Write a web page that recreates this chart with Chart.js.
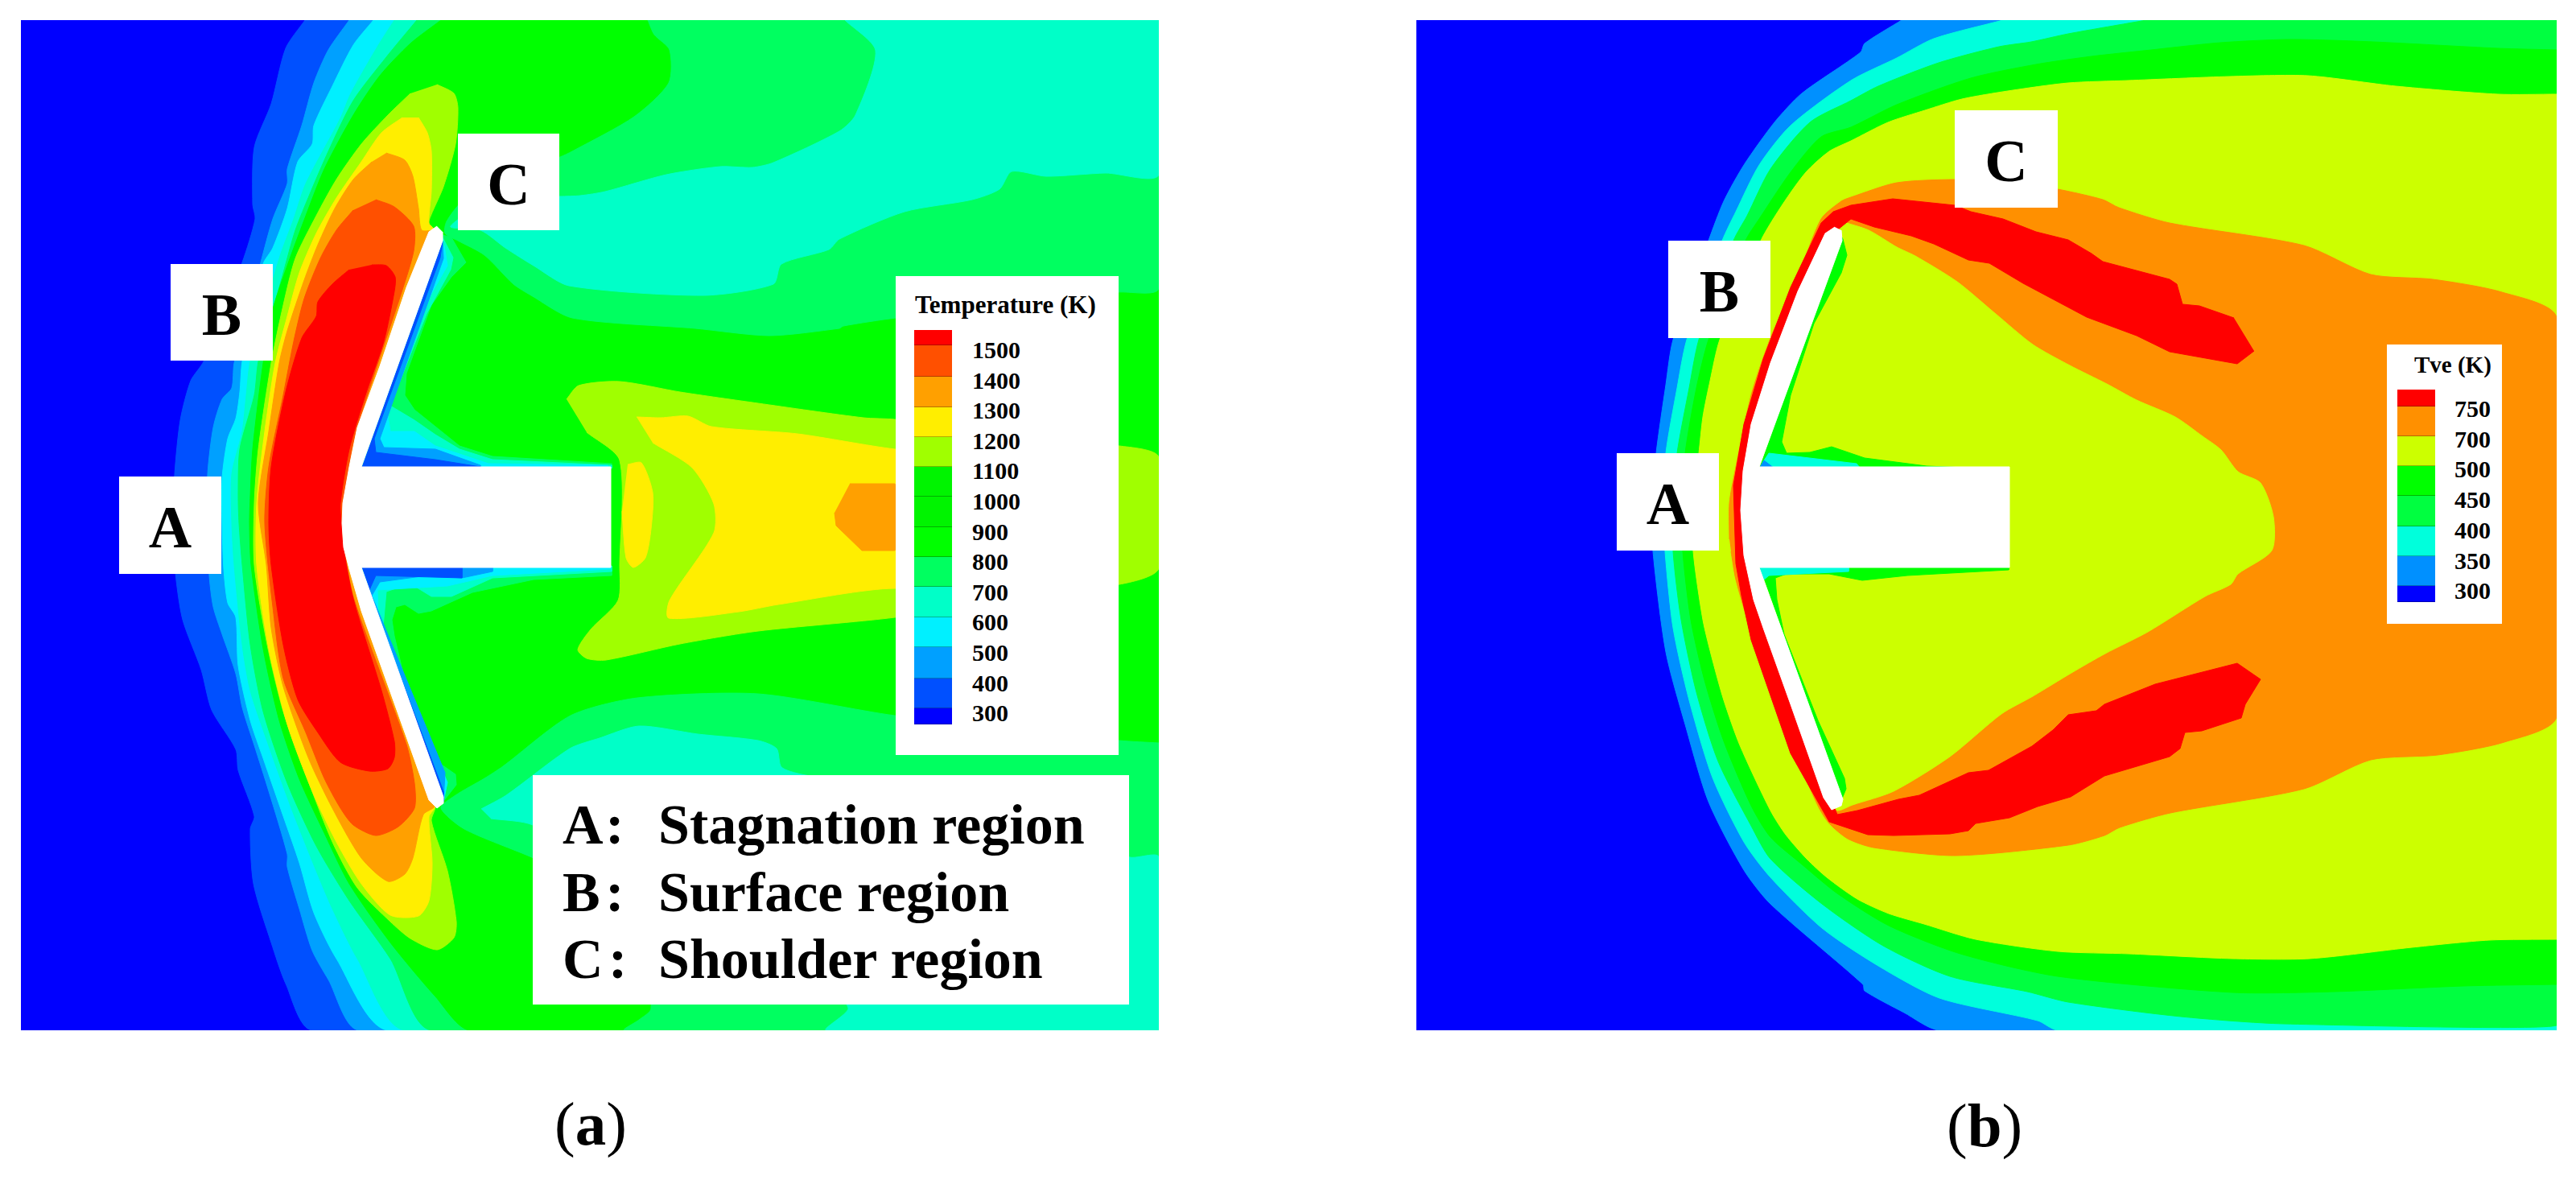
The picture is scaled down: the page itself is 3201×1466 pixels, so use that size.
<!DOCTYPE html>
<html lang="en">
<head>
<meta charset="UTF-8">
<title>Temperature and Tve contours</title>
<script src="https://cdn.jsdelivr.net/npm/chart.js"></script>
<style>
  html, body { margin: 0; padding: 0; background: #fff; }
  #page { position: relative; width: 3201px; height: 1466px; overflow: hidden; font-family: "Liberation Serif", serif; color: #000; }
  canvas { position: absolute; }
  .box { position: absolute; background: #fff; }
  .tag { display: flex; align-items: center; justify-content: center; box-sizing: border-box; padding-top: 5px; font-weight: bold; font-size: 74px; line-height: 1; }
  .txt { position: absolute; white-space: nowrap; font-weight: bold; line-height: 1; }
  .cap { position: absolute; white-space: nowrap; font-size: 77px; line-height: 1; }
  .cell { position: absolute; box-sizing: border-box; border-bottom: 1px solid rgba(0,0,0,.28); }
</style>
</head>
<body>
<div id="page">
  <canvas id="chartA"></canvas>
  <canvas id="chartB"></canvas>
</div>
<script>
// ---- legend ticks and colours ----
const tempTicks = [1500, 1400, 1300, 1200, 1100, 1000, 900, 800, 700, 600, 500, 400, 300];
const tempColors = ['#ff0000', '#ff5000', '#ffa000', '#ffee00', '#a0ff00', '#00f400', '#00f400', '#00ff00', '#00ff60', '#00ffc8', '#00f0ff', '#00a0ff', '#0050ff', '#0000ff'];
const tveTicks = [750, 700, 500, 450, 400, 350, 300];
const tveColors = ['#ff0000', '#ff9000', '#ccff00', '#00ff00', '#00ff40', '#00ffdc', '#0090ff', '#0000ff'];
const regionKeys = ['A', 'B', 'C'];
const regionNames = ['Stagnation region', 'Surface region', 'Shoulder region'];

// ---- (a) temperature contours ----
const aField = [[26,25],[1440,25],[1440,1280],[26,1280]];
const aEdge400 = [[379,25],[355,60],[337,129],[316,183],[314,254],[317,272],[301,326],[253,449],[237,473],[224,522],[217,589],[215,650],[218,712],[227,770],[250,832],[263,882],[293,931],[296,957],[316,1014],[311,1030],[315,1098],[337,1171],[355,1222],[388,1280],[1440,1280],[1440,25]];
const aEdge500 = [[434,25],[408,62],[390,103],[375,156],[357,210],[357,228],[339,272],[324,326],[291,451],[288,482],[276,496],[265,531],[258,589],[258,650],[260,715],[265,754],[276,788],[293,837],[301,879],[316,926],[334,983],[357,1061],[357,1077],[372,1129],[388,1181],[408,1217],[446,1280],[1440,1280],[1440,25]];
const aEdge600 = [[464,25],[439,56],[413,107],[390,156],[388,179],[370,201],[357,259],[339,308],[327,328],[301,449],[298,487],[293,520],[283,545],[276,594],[276,650],[278,707],[283,749],[293,767],[296,827],[311,895],[327,942],[352,1014],[372,1072],[390,1134],[418,1191],[482,1280],[1440,1280],[1440,25]];
const aEdge700 = [[490,25],[469,58],[436,116],[423,147],[380,228],[365,272],[347,321],[311,449],[306,491],[301,536],[288,589],[288,650],[291,702],[301,801],[311,858],[332,921],[362,1004],[393,1082],[413,1129],[444,1191],[503,1280],[1440,1280],[1440,25]];
const aEdge800 = [[518,25],[480,71],[439,125],[408,188],[385,241],[367,286],[352,339],[337,393],[321,449],[316,491],[298,558],[296,616],[297,650],[301,702],[311,801],[327,884],[357,973],[393,1051],[434,1119],[485,1191],[536,1280],[1440,1280],[1440,25]];
const aEdge900 = [[548,25],[510,54],[472,94],[439,143],[403,210],[380,268],[357,330],[339,384],[327,451],[314,558],[311,616],[310,650],[312,702],[327,806],[347,895],[372,968],[403,1035],[434,1098],[485,1171],[541,1238],[584,1280],[1440,1280],[1440,25]];

const aWakeTop800 = [[805,25],[813,43],[832,62],[831,103],[788,145],[711,188],[696,195],[640,215],[575,250],[555,275],[553,290],[569,299],[602,317],[638,353],[660,367],[711,395],[864,408],[956,417],[1043,408],[1048,405],[1113,395],[1390,363],[1440,358],[1440,25]];
const aWakeTop700 = [[1050,25],[1088,63],[1063,143],[1043,163],[961,202],[935,208],[895,207],[828,217],[752,238],[721,243],[696,244],[600,245],[575,268],[560,282],[597,286],[628,308],[663,330],[707,355],[874,367],[961,353],[971,328],[1030,310],[1043,297],[1124,263],[1208,248],[1242,235],[1257,213],[1300,219],[1374,215],[1440,217],[1440,25]];
const aWakeLow800 = [[1440,923],[1391,920],[1112,889],[942,862],[792,867],[709,889],[625,952],[602,967],[566,988],[548,1004],[577,1030],[663,1066],[800,1130],[809,1253],[794,1267],[776,1280],[1440,1280]];
const aWakeLow700 = [[598,1005],[629,988],[708,930],[745,917],[794,902],[867,912],[942,920],[965,930],[971,953],[996,962],[1100,980],[1404,1065],[1440,1065],[1440,1280],[1027,1280],[1054,1252],[1000,1200],[662,1025],[610,1017]];
const aCore1200 = [[704,496],[719,479],[770,474],[845,487],[942,501],[1073,519],[1112,521],[1391,554],[1440,568],[1440,706],[1391,726],[1112,767],[942,784],[845,800],[753,820],[729,818],[718,807],[734,782],[768,746],[770,702],[770,572],[729,537]];
const aCore1300 = [[791,518],[821,519],[855,517],[884,530],[991,539],[1112,558],[1300,575],[1300,750],[1112,731],[967,751],[918,760],[831,768],[832,746],[887,662],[887,626],[860,581],[811,550]];
const aNear1300 = [[780,577],[797,575],[811,612],[809,657],[802,693],[787,705],[778,693],[773,635]];
const aCore1400 = [[1056,601],[1112,601],[1130,640],[1112,684],[1071,684],[1039,653],[1037,637]];

const aBackTop800 = [[543,290],[561,295],[579,326],[561,344],[536,379],[505,464],[503,491],[515,509],[571,554],[612,567],[760,576],[760,582],[449,582]];
const aBackTop700 = [[550,295],[563,320],[560,335],[530,390],[485,504],[515,522],[541,540],[571,558],[612,571],[760,578],[760,582],[449,582]];
const aBackTop600 = [[552,305],[556,330],[536,365],[480,504],[485,536],[515,536],[541,554],[607,576],[755,578],[755,582],[449,582]];
const aBackTop500 = [[550,300],[551,321],[472,545],[477,556],[541,558],[597,578],[597,582],[449,582]];
const aBackTop400 = [[550,300],[547,320],[465,545],[467,562],[541,571],[597,580],[449,582]];
const aBackLow800 = [[449,703],[760,703],[760,715],[663,720],[587,736],[536,759],[520,762],[503,751],[492,754],[487,770],[490,790],[510,874],[536,941],[566,962],[567,975],[553,993],[543,1004]];
const aBackLow700 = [[449,703],[760,703],[760,710],[612,718],[561,741],[536,741],[510,725],[480,735],[475,790],[510,890],[553,975],[551,996]];
const aBackLow600 = [[449,703],[758,703],[758,707],[612,715],[556,728],[469,733],[470,770],[556,972],[551,996]];
const aBackLow500 = [[449,703],[612,703],[612,710],[574,718],[531,715],[472,723],[462,740],[553,960],[551,996]];
const aBackLow400 = [[449,703],[574,703],[574,718],[467,715],[458,735],[551,983],[551,996]];

const aLobe1200 = [[543,105],[564,116],[569,134],[566,179],[551,232],[531,281],[541,288],[441,580],[441,705],[541,1000],[536,1020],[556,1082],[567,1145],[564,1165],[543,1180],[510,1166],[485,1145],[444,1103],[413,1046],[378,957],[352,884],[332,801],[316,702],[316,625],[321,558],[337,451],[352,379],[367,321],[393,268],[418,223],[449,179],[482,143],[510,116]];
const aLobe1300 = [[520,146],[531,165],[536,188],[536,237],[533,277],[541,288],[441,580],[441,705],[541,1000],[533,1015],[537,1072],[533,1119],[520,1138],[485,1137],[449,1098],[418,1046],[388,983],[357,900],[334,806],[319,702],[319,625],[329,536],[342,451],[357,393],[372,339],[393,290],[418,246],[449,201],[474,165],[500,146]];
const aLobe1400 = [[480,190],[503,199],[513,219],[520,259],[524,286],[541,288],[441,580],[441,705],[541,1000],[526,1012],[513,1066],[503,1086],[482,1095],[449,1066],[413,1004],[383,941],[352,853],[337,780],[331,702],[321,625],[334,536],[347,451],[357,411],[378,348],[395,304],[416,259],[439,223],[462,201]];
const aLobe1500 = [[467,248],[490,257],[514,281],[514,312],[500,360],[465,465],[440,545],[428,620],[428,680],[440,745],[505,925],[515,973],[515,1004],[495,1027],[467,1038],[439,1025],[423,1004],[403,967],[380,910],[352,843],[339,754],[329,650],[334,580],[352,491],[365,424],[378,371],[398,321],[418,286],[439,261]];
const aLobeTop = [[462,329],[480,330],[491,344],[490,362],[477,424],[454,491],[434,558],[423,625],[424,650],[426,676],[439,744],[474,858],[490,921],[490,941],[482,955],[459,958],[423,947],[395,910],[370,869],[352,801],[337,702],[334,650],[337,580],[355,487],[375,420],[393,393],[395,375],[413,353],[434,335]];
const aBody = [[543,281],[533,288],[505,357],[472,455],[444,531],[434,580],[426,625],[425,650],[427,680],[434,707],[449,759],[533,994],[543,1004],[551,998],[551,990],[449,705],[759,705],[759,580],[449,580],[550,299],[550,288]];

// ---- (b) Tve contours ----
const bField = [[1760,25],[3177,25],[3177,1280],[1760,1280]];
const bEdge350 = [[2363,25],[2317,54],[2312,65],[2239,116],[2205,152],[2167,205],[2142,250],[2123,299],[2079,422],[2070,478],[2058,563],[2053,625],[2054,685],[2070,810],[2094,900],[2123,996],[2167,1081],[2200,1123],[2315,1223],[2317,1231],[2366,1258],[2410,1280],[3177,1280],[3177,25]];
const bEdge400 = [[2489,25],[2403,48],[2357,72],[2300,100],[2225,156],[2186,205],[2157,263],[2140,299],[2096,422],[2084,482],[2070,563],[2067,625],[2069,685],[2079,780],[2099,870],[2128,966],[2167,1046],[2200,1090],[2264,1153],[2334,1200],[2410,1240],[2532,1268],[2557,1280],[3177,1280],[3177,25]];
const bEdge450 = [[2667,25],[2570,42],[2524,52],[2484,58],[2409,78],[2334,107],[2300,125],[2249,152],[2200,210],[2171,268],[2154,299],[2111,422],[2099,482],[2084,563],[2079,625],[2079,685],[2089,770],[2108,860],[2135,946],[2176,1026],[2200,1067],[2264,1123],[2340,1175],[2423,1213],[2519,1232],[2570,1245],[2710,1263],[2838,1272],[3177,1274],[3177,25]];
const bEdge500 = [[3177,62],[3104,60],[2949,52],[2845,49],[2759,53],[2673,62],[2599,70],[2530,80],[2449,97],[2357,130],[2300,158],[2263,170],[2225,214],[2186,272],[2169,299],[2123,422],[2108,482],[2094,563],[2090,625],[2091,685],[2101,770],[2118,845],[2142,921],[2176,1001],[2200,1040],[2238,1073],[2283,1110],[2347,1150],[2436,1185],[2557,1213],[2774,1233],[2901,1232],[3061,1225],[3177,1223]];
const bEdge700 = [[3177,117],[3104,117],[2977,107],[2868,94],[2771,95],[2644,100],[2570,103],[2495,113],[2438,123],[2392,137],[2346,152],[2300,175],[2273,188],[2244,214],[2215,254],[2188,299],[2137,422],[2125,473],[2116,518],[2111,563],[2103,625],[2104,685],[2116,770],[2128,820],[2142,870],[2162,926],[2200,1007],[2219,1037],[2245,1067],[2270,1090],[2308,1117],[2347,1135],[2391,1148],[2455,1167],[2557,1182],[2646,1185],[2774,1191],[2870,1191],[2997,1177],[3093,1168],[3177,1167]];
const bOrange = [[2149,670],[2149,625],[2157,580],[2176,491],[2200,420],[2234,344],[2263,272],[2288,250],[2300,245],[2357,227],[2429,223],[2500,226],[2557,235],[2613,248],[2633,258],[2696,277],[2863,305],[2946,341],[3023,347],[3109,363],[3177,395],[3177,890],[3112,922],[3029,938],[2946,944],[2863,980],[2697,1010],[2634,1028],[2615,1038],[2570,1050],[2430,1063],[2328,1053],[2296,1042],[2273,1023],[2259,1001],[2220,911],[2176,785],[2157,720],[2151,685]];
const bInner = [[2288,275],[2322,286],[2357,307],[2380,318],[2432,350],[2480,390],[2526,428],[2572,454],[2618,477],[2655,497],[2703,518],[2737,542],[2760,559],[2781,586],[2809,600],[2825,642],[2823,684],[2781,713],[2772,726],[2740,741],[2669,785],[2616,812],[2574,836],[2526,865],[2487,887],[2423,940],[2353,983],[2302,1000],[2283,1007],[2276,995],[2176,705],[2176,585],[2278,290]];
const bRed = [[2776,395],[2733,380],[2712,378],[2705,353],[2696,347],[2613,325],[2599,315],[2570,298],[2530,288],[2489,272],[2449,263],[2429,255],[2352,247],[2300,255],[2278,263],[2263,277],[2225,357],[2191,446],[2167,527],[2154,603],[2157,700],[2164,740],[2176,795],[2225,936],[2273,1021],[2321,1037],[2353,1038],[2423,1036],[2446,1032],[2455,1023],[2497,1016],[2532,1002],[2573,990],[2615,964],[2696,940],[2709,930],[2715,910],[2736,908],[2785,892],[2790,875],[2809,844],[2780,824],[2678,850],[2615,875],[2605,883],[2570,888],[2551,907],[2525,927],[2471,957],[2446,960],[2385,988],[2359,993],[2308,1007],[2283,1012],[2276,995],[2172,700],[2172,590],[2278,290],[2300,272],[2329,282],[2375,293],[2403,303],[2446,323],[2472,327],[2514,352],[2593,394],[2655,417],[2696,437],[2780,452],[2801,436]];
const bBackTop500 = [[2286,290],[2290,297],[2295,317],[2288,339],[2254,402],[2225,491],[2214,549],[2220,563],[2249,562],[2276,555],[2317,569],[2394,579],[2467,582],[2186,582]];
const bBackTop400 = [[2190,575],[2198,563],[2307,576],[2312,582],[2186,582]];
const bBackTop350 = [[2186,582],[2192,572],[2205,582]];
const bBackLow500 = [[2186,703],[2496,703],[2496,708],[2370,715],[2314,721],[2273,713],[2220,713],[2206,718],[2208,745],[2217,788],[2259,895],[2292,967],[2294,980],[2289,992]];
const bBackLow400 = [[2186,703],[2297,703],[2297,710],[2198,715],[2190,722]];
const bBody = [[2280,282],[2268,290],[2234,362],[2200,451],[2176,527],[2166,585],[2163,634],[2167,690],[2179,745],[2191,780],[2225,875],[2266,991],[2276,1006],[2288,1001],[2290,993],[2186,705],[2497,705],[2497,580],[2186,580],[2289,299],[2288,286]];

// which colour goes with which contour, painted back to front
// third entry: true where the edge is a smooth contour, false where it has hard corners
const tempLayers = [
  [aField, 13, false], [aEdge400, 12, true], [aEdge500, 11, true], [aEdge600, 10, true], [aEdge700, 9, true], [aEdge800, 8, true], [aEdge900, 7, true],
  [aWakeTop800, 8, true], [aWakeTop700, 9, true], [aWakeLow800, 8, true], [aWakeLow700, 9, true],
  [aCore1200, 4, true], [aCore1300, 3, true], [aNear1300, 3, true], [aCore1400, 2, false],
  [aBackTop800, 8, false], [aBackTop700, 9, false], [aBackTop600, 10, false], [aBackTop500, 11, false], [aBackTop400, 12, false],
  [aBackLow800, 8, false], [aBackLow700, 9, false], [aBackLow600, 10, false], [aBackLow500, 11, false], [aBackLow400, 12, false],
  [aLobe1200, 4, true], [aLobe1300, 3, true], [aLobe1400, 2, true], [aLobe1500, 1, true], [aLobeTop, 0, true]
];
const tveLayers = [
  [bField, 7, false], [bEdge350, 6, true], [bEdge400, 5, true], [bEdge450, 4, true], [bEdge500, 3, true], [bEdge700, 2, true],
  [bOrange, 1, true], [bInner, 2, true], [bRed, 0, false],
  [bBackTop500, 3, false], [bBackTop400, 5, false], [bBackTop350, 6, false], [bBackLow500, 3, false], [bBackLow400, 5, false]
];

function toDataset(points, color, smooth) {
  return {
    data: points.map(p => ({ x: p[0], y: p[1] })),
    showLine: true,
    fill: 'shape',
    backgroundColor: color,
    borderColor: color,
    borderWidth: 1,
    pointRadius: 0,
    tension: smooth ? 0.25 : 0
  };
}

function makeChart(id, left, top, right, bottom, datasets) {
  const canvas = document.getElementById(id);
  canvas.style.left = left + 'px';
  canvas.style.top = top + 'px';
  canvas.width = right - left;
  canvas.height = bottom - top;
  return new Chart(canvas, {
    type: 'scatter',
    // the filler paints the last dataset first, so the back layer goes last
    data: { datasets: datasets.reverse() },
    options: {
      responsive: false,
      animation: false,
      devicePixelRatio: 1,
      layout: { padding: 0 },
      plugins: { legend: { display: false }, tooltip: { enabled: false } },
      scales: {
        x: { type: 'linear', min: left, max: right, display: false },
        y: { type: 'linear', min: top, max: bottom, reverse: true, display: false }
      }
    }
  });
}

const tempSets = tempLayers.map(l => toDataset(l[0], tempColors[l[1]], l[2]));
tempSets.push(toDataset(aBody, '#ffffff', false));
makeChart('chartA', 26, 25, 1440, 1280, tempSets);

const tveSets = tveLayers.map(l => toDataset(l[0], tveColors[l[1]], l[2]));
tveSets.push(toDataset(bBody, '#ffffff', false));
makeChart('chartB', 1760, 25, 3177, 1280, tveSets);

// ---- text and legends on top of the charts ----
const page = document.getElementById('page');

function addBox(left, top, width, height, cls) {
  const el = document.createElement('div');
  el.className = 'box ' + (cls || '');
  el.style.cssText = `left:${left}px;top:${top}px;width:${width}px;height:${height}px`;
  page.appendChild(el);
  return el;
}

function addText(left, top, text, size, cls) {
  const el = document.createElement('div');
  el.className = cls || 'txt';
  el.style.cssText = `left:${left}px;top:${top}px;font-size:${size}px`;
  el.textContent = text;
  page.appendChild(el);
  return el;
}

addBox(148, 592, 127, 121, 'tag').textContent = 'A';
addBox(212, 328, 127, 120, 'tag').textContent = 'B';
addBox(569, 166, 126, 120, 'tag').textContent = 'C';
addBox(2009, 563, 127, 121, 'tag').textContent = 'A';
addBox(2073, 299, 127, 121, 'tag').textContent = 'B';
addBox(2429, 137, 128, 121, 'tag').textContent = 'C';

function addColorbar(boxL, boxT, boxW, boxH, title, titleX, titleY, titleSize, barL, barW, edges, colors, ticks, tickX, firstTickY, tickStep) {
  addBox(boxL, boxT, boxW, boxH);
  addText(titleX, titleY, title, titleSize);
  colors.forEach((c, i) => {
    const el = document.createElement('div');
    el.className = 'cell';
    el.style.cssText = `left:${barL}px;top:${edges[i]}px;width:${barW}px;height:${edges[i + 1] - edges[i]}px;background:${c}`;
    page.appendChild(el);
  });
  ticks.forEach((t, i) => addText(tickX, firstTickY + i * tickStep, String(t), 30));
}

addColorbar(1113, 343, 277, 595, 'Temperature (K)', 1137, 363, 31, 1136, 47,
  [410, 429, 468, 506, 543, 580, 617, 655, 692, 729, 767, 804, 843, 880, 900], tempColors, tempTicks, 1208, 420, 37.6);
addColorbar(2966, 428, 143, 347, 'Tve (K)', 3000, 439, 29, 2979, 47,
  [484, 505, 542, 579, 616, 654, 691, 728, 748], tveColors, tveTicks, 3050, 493, 37.7);

addBox(662, 963, 741, 285);
regionKeys.forEach((k, i) => {
  const y = 990 + i * 83.5;
  const key = addText(699, y, k + ' :', 70);
  key.style.wordSpacing = '-11px';
  addText(818, y, regionNames[i], 70);
});

function addCaption(left, top, letter) {
  const el = document.createElement('div');
  el.className = 'cap';
  el.style.cssText = `left:${left}px;top:${top}px`;
  el.innerHTML = '(<b>' + letter + '</b>)';
  page.appendChild(el);
}
addCaption(689, 1358, 'a');
addCaption(2419, 1360, 'b');
</script>
</body>
</html>
